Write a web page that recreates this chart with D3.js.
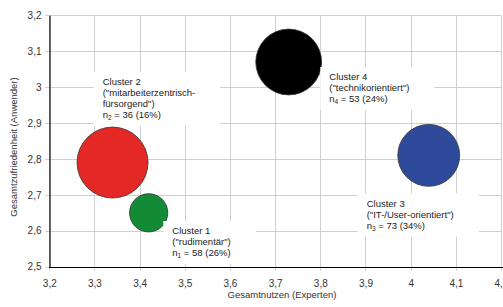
<!DOCTYPE html>
<html>
<head>
<meta charset="utf-8">
<script src="https://cdn.jsdelivr.net/npm/d3@7"></script>
<style>
  html, body { margin: 0; padding: 0; background: #fff; }
  svg { display: block; font-family: "Liberation Sans", Arial, sans-serif; }
</style>
</head>
<body>
<svg id="chart" width="503" height="307"></svg>
<script>
// ---- data ----
const clusters = ["Cluster 1", "Cluster 2", "Cluster 3", "Cluster 4"];
const clusterNames = ["(\"rudimentär\")", "(\"mitarbeiterzentrisch-|fürsorgend\")", "(\"IT-/User-orientiert\")", "(\"technikorientiert\")"];
const nIndex = ["1", "2", "3", "4"];
const nValues = [58, 36, 73, 53];
const nPercent = ["26%", "16%", "34%", "24%"];
const xValues = [3.42, 3.34, 4.04, 3.73];   // Gesamtnutzen (Experten)
const yValues = [2.65, 2.79, 2.81, 3.07];   // Gesamtzufriedenheit (Anwender)
const bubbleSize = [29, 100, 76, 86];        // relative bubble area
const colors = ["#138a36", "#e32825", "#2f4a9b", "#000000"];
const xTicks = [3.2, 3.3, 3.4, 3.5, 3.6, 3.7, 3.8, 3.9, 4.0, 4.1, 4.2];
const yTicks = [2.5, 2.6, 2.7, 2.8, 2.9, 3.0, 3.1, 3.2];
const xTitle = "Gesamtnutzen (Experten)";
const yTitle = "Gesamtzufriedenheit (Anwender)";

// ---- layout ----
const svg = d3.select("#chart");
const pLeft = 49.3, pRight = 501, pTop = 15.3, pBottom = 266.7;
const x = d3.scaleLinear().domain([3.2, 4.2]).range([pLeft, pRight]);
const y = d3.scaleLinear().domain([2.5, 3.2]).range([pBottom, pTop]);
const r = d3.scaleSqrt().domain([0, 100]).range([0, 35.5]);
const fmt = v => String(+v.toFixed(1)).replace(".", ",");

// grid
const grid = svg.append("g").attr("stroke", "#cfcfcf").attr("stroke-width", 1);
grid.selectAll("line.v").data(xTicks).join("line")
  .attr("x1", d => Math.round(x(d)) + 0.5).attr("x2", d => Math.round(x(d)) + 0.5)
  .attr("y1", pTop).attr("y2", pBottom + 4);
grid.selectAll("line.h").data(yTicks).join("line")
  .attr("y1", d => Math.round(y(d)) + 0.5).attr("y2", d => Math.round(y(d)) + 0.5)
  .attr("x1", pLeft - 4).attr("x2", pRight);

// axes via d3
const xAxis = d3.axisBottom(x).tickValues(xTicks).tickFormat(fmt).tickSize(0).tickPadding(12);
const yAxis = d3.axisLeft(y).tickValues(yTicks).tickFormat(fmt).tickSize(0).tickPadding(8);
const gx = svg.append("g").attr("transform", `translate(0,${Math.round(pBottom) + 0.5})`).call(xAxis);
const gy = svg.append("g").attr("transform", `translate(${Math.round(pLeft) + 0.5},0)`).call(yAxis);
[gx, gy].forEach(g => {
  g.select(".domain").attr("stroke", "#000").attr("stroke-width", 1.2);
  g.selectAll("text").attr("fill", "#333").attr("font-size", 10)
    .attr("font-family", "'Liberation Sans', Arial, sans-serif");
});
gx.select(".domain").attr("d", `M${Math.round(pLeft)},0H503`);

// axis titles
svg.append("text").attr("x", 282).attr("y", 298).attr("text-anchor", "middle")
  .attr("font-size", 9.5).attr("fill", "#333").text(xTitle);
svg.append("text").attr("transform", "translate(17,147) rotate(-90)").attr("text-anchor", "middle")
  .attr("font-size", 9.5).attr("fill", "#333").text(yTitle);

// bubbles
const data = clusters.map((c, i) => ({c, name: clusterNames[i], k: nIndex[i], n: nValues[i], p: nPercent[i],
  x: xValues[i], y: yValues[i], s: bubbleSize[i], col: colors[i]}));
svg.append("g").selectAll("circle").data(data).join("circle")
  .attr("cx", d => x(d.x)).attr("cy", d => y(d.y)).attr("r", d => r(d.s))
  .attr("fill", d => d.col).attr("stroke", "#333").attr("stroke-width", 0.8);

// labels: anchor = [left x, first baseline y]
const labelPos = [[172.3, 234], [102.7, 85], [366.7, 206.5], [329.3, 80]];
const lh = 11;
data.forEach((d, i) => {
  const g = svg.append("g");
  const lines = [d.c, ...d.name.split("|")];
  const t = g.append("text").attr("font-size", 9.5).attr("fill", "#222");
  lines.forEach((ln, j) => t.append("tspan").attr("x", labelPos[i][0]).attr("y", labelPos[i][1] + j * lh).text(ln));
  const last = t.append("tspan").attr("x", labelPos[i][0]).attr("y", labelPos[i][1] + lines.length * lh);
  last.append("tspan").text("n");
  last.append("tspan").attr("font-size", 6.5).attr("dy", 2).text(d.k);
  last.append("tspan").attr("dy", -2).text(` = ${d.n} (${d.p})`);
  const bb = t.node().getBBox();
  g.insert("rect", "text").attr("x", bb.x - 9).attr("y", bb.y - 4)
    .attr("width", bb.width + 34).attr("height", bb.height + 9).attr("fill", "#fff");
});
</script>
</body>
</html>
